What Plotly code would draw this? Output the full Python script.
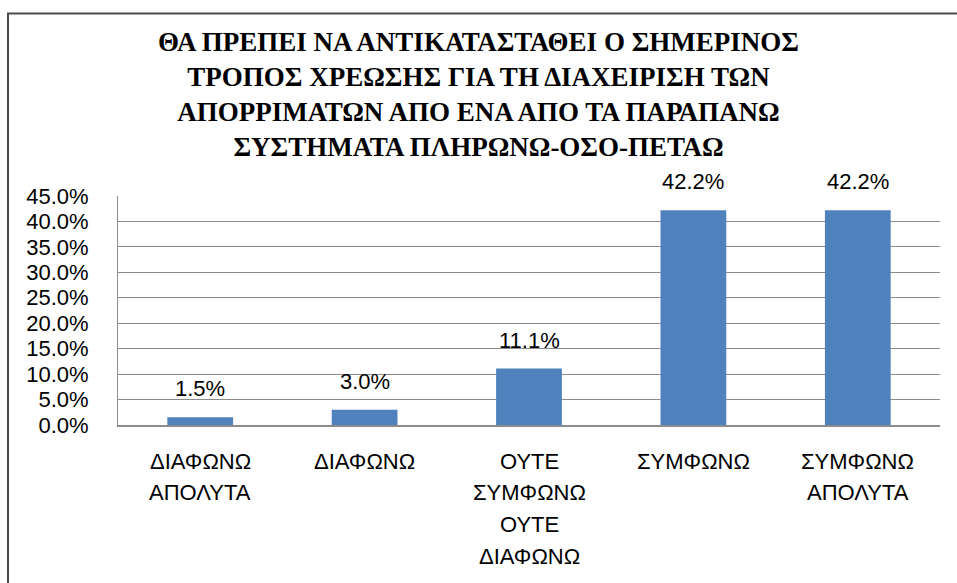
import plotly.graph_objects as go

categories = ["ΔΙΑΦΩΝΩ ΑΠΟΛΥΤΑ", "ΔΙΑΦΩΝΩ", "ΟΥΤΕ ΣΥΜΦΩΝΩ ΟΥΤΕ ΔΙΑΦΩΝΩ", "ΣΥΜΦΩΝΩ", "ΣΥΜΦΩΝΩ ΑΠΟΛΥΤΑ"]
category_lines = [["ΔΙΑΦΩΝΩ", "ΑΠΟΛΥΤΑ"], ["ΔΙΑΦΩΝΩ"], ["ΟΥΤΕ", "ΣΥΜΦΩΝΩ", "ΟΥΤΕ", "ΔΙΑΦΩΝΩ"], ["ΣΥΜΦΩΝΩ"], ["ΣΥΜΦΩΝΩ", "ΑΠΟΛΥΤΑ"]]
values = [0.015, 0.030, 0.111, 0.422, 0.422]
y_ticks = [0.0, 0.05, 0.10, 0.15, 0.20, 0.25, 0.30, 0.35, 0.40, 0.45]
title_lines = [
    "ΘΑ ΠΡΕΠΕΙ ΝΑ ΑΝΤΙΚΑΤΑΣΤΑΘΕΙ Ο ΣΗΜΕΡΙΝΟΣ",
    "ΤΡΟΠΟΣ ΧΡΕΩΣΗΣ ΓΙΑ ΤΗ ΔΙΑΧΕΙΡΙΣΗ ΤΩΝ",
    "ΑΠΟΡΡΙΜΑΤΩΝ ΑΠΟ ΕΝΑ ΑΠΟ ΤΑ ΠΑΡΑΠΑΝΩ",
    "ΣΥΣΤΗΜΑΤΑ ΠΛΗΡΩΝΩ-ΟΣΟ-ΠΕΤΑΩ",
]

FONT = "Liberation Sans"
FS = 22

fig = go.Figure(go.Bar(
    x=categories, y=values, width=0.4,
    marker=dict(color="#4F81BD", line=dict(width=0)),
    hoverinfo="skip",
))

annotations = []
for c, v in zip(categories, values):
    annotations.append(dict(x=c, y=v, xref="x", yref="y", text=f"{v*100:.1f}%",
                            showarrow=False, yanchor="bottom", yshift=14,
                            font=dict(family=FONT, size=FS, color="black")))
for c, lines in zip(categories, category_lines):
    for i, ln in enumerate(lines):
        annotations.append(dict(x=c, y=0, xref="x", yref="paper", text=ln,
                                showarrow=False, yanchor="middle", yshift=-36 - 31.7 * i,
                                font=dict(family=FONT, size=FS, color="black")))

fig.update_layout(
    width=957, height=583,
    margin=dict(l=118, r=17, t=196, b=158),
    paper_bgcolor="white", plot_bgcolor="white",
    showlegend=False,
    title=dict(text="<br>".join(title_lines),
               x=0.5, xref="container", xanchor="center",
               y=1 - 51 / 583, yref="container", yanchor="top",
               font=dict(family="Times New Roman, Liberation Serif, DejaVu Serif, serif",
                         size=27, color="black", weight="bold")),
    xaxis=dict(showticklabels=False, showgrid=False, ticks="",
               showline=True, linecolor="#8c8c8c", linewidth=2),
    yaxis=dict(range=[0, 0.45], tickvals=y_ticks, tickformat=".1%",
               showgrid=True, gridcolor="#8c8c8c", gridwidth=1,
               showline=True, linecolor="#8c8c8c", linewidth=1,
               ticks="", ticklabelstandoff=24, zeroline=False,
               tickfont=dict(family=FONT, size=FS, color="black")),
    annotations=annotations,
    shapes=[dict(type="rect", xref="paper", yref="paper",
                 x0=(8 - 118) / 822, x1=1.2, y0=-1.0, y1=(424.5 - 13) / 229,
                 line=dict(color="#4a4a4a", width=2), layer="below")],
)

fig.write_html("out.html", config={"displayModeBar": False},
               post_script="document.body.style.margin='0';")
